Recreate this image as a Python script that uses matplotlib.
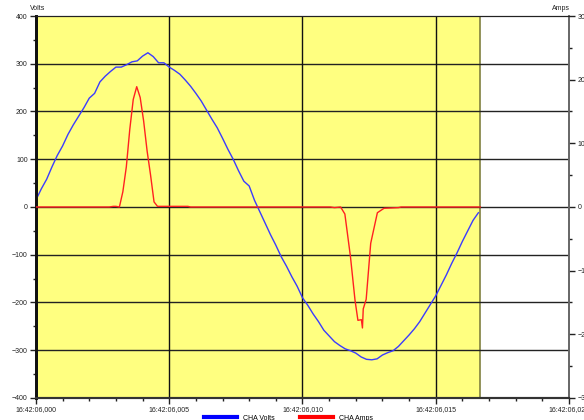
import numpy as np
import matplotlib
matplotlib.use("Agg")
import matplotlib.pyplot as plt
from matplotlib.ticker import MultipleLocator, FixedLocator

plt.rcParams['font.family'] = ['Liberation Sans', 'DejaVu Sans']

# time axis in ms, one 60 Hz cycle captured
t_volts = np.arange(84) * 0.2
volts = [15, 38, 58, 84, 108, 128, 152, 172, 190, 208,
         228, 238, 262, 274, 284, 293, 293, 298, 304, 306,
         316, 323, 315, 302, 302, 293, 286, 278, 266, 253,
         238, 222, 203, 184, 166, 144, 121, 100, 76, 54,
         44, 14, -10, -34, -58, -80, -104, -124, -146, -166,
         -190, -206, -224, -240, -258, -270, -282, -290, -297, -301,
         -306, -314, -319, -320, -318, -310, -305, -301, -292, -280,
         -268, -255, -240, -222, -204, -186, -164, -142, -118, -96,
         -72, -50, -28, -12]

t_amps = [0.0, 2.75, 2.90, 3.00, 3.13, 3.26, 3.39, 3.52, 3.65, 3.78,
          3.91, 4.04, 4.17, 4.30, 4.43, 4.56, 4.70, 5.70, 5.80,
          11.05, 11.20, 11.43, 11.59, 11.80, 11.97, 12.08, 12.21, 12.25,
          12.28, 12.39, 12.56, 12.81, 13.06, 13.60, 13.70, 16.67]
amps = [0.0, 0.0, 0.1, 0.1, 0.0, 2.4, 6.3, 12.2, 16.9, 18.9,
        17.2, 13.5, 8.8, 5.0, 0.8, 0.1, 0.1, 0.1, 0.0,
        0.0, -0.1, 0.0, -1.1, -7.8, -14.6, -17.8, -17.7, -19.0,
        -16.0, -14.5, -5.7, -0.9, -0.2, -0.1, 0.0, 0.0]

xtick_labels = ['16:42:06,000', '16:42:06,005', '16:42:06,010',
                '16:42:06,015', '16:42:06,020']
cycle_end = 16.667

fig = plt.figure(figsize=(5.84, 4.2), dpi=100)
ax = fig.add_axes([0.0616, 0.0524, 0.9127, 0.9095])
ax2 = ax.twinx()

ax.set_xlim(0, 20)
ax.set_ylim(-400, 400)
ax2.set_ylim(-30, 30)

# yellow band covers the captured cycle
ax.axvspan(0, cycle_end, color='#ffff80', zorder=0, lw=0)
ax.axvline(cycle_end, color='#808040', lw=1.2, zorder=1)

for v in range(-300, 400, 100):
    ax.axhline(v, color='#222222', lw=1, zorder=1)
for x in [5, 10, 15]:
    ax.axvline(x, color='#111111', lw=1, zorder=1)

ax.plot(t_volts, volts, color='#3b3bff', lw=1.0, zorder=3)
ax2.plot(t_amps, amps, color='#ff2020', lw=1.0, zorder=3)

ax.xaxis.set_major_locator(FixedLocator([0, 5, 10, 15, 20]))
ax.set_xticklabels(xtick_labels)
ax.xaxis.set_minor_locator(MultipleLocator(1))
ax.yaxis.set_major_locator(MultipleLocator(100))
ax.yaxis.set_minor_locator(MultipleLocator(50))
ax2.yaxis.set_major_locator(MultipleLocator(10))
ax2.yaxis.set_minor_locator(MultipleLocator(5))

for a in (ax, ax2):
    a.tick_params(which='major', direction='out', length=4, width=1,
                  labelsize=5, colors='#222222', pad=2)
    a.tick_params(which='minor', direction='out', length=2, width=1,
                  colors='#222222')

for a in (ax, ax2):
    a.spines['left'].set_linewidth(2)
    a.spines['left'].set_color('#111111')
    a.spines['bottom'].set_linewidth(1.5)
    a.spines['bottom'].set_color('#333333')
    a.spines['top'].set_color('#222222')
    a.spines['right'].set_color('#666666')
    a.spines['right'].set_linewidth(1.2)

fig.text(0.065, 0.972, 'Volts', fontsize=5, ha='center', va='bottom', color='#222222')
fig.text(0.96, 0.972, 'Amps', fontsize=5, ha='center', va='bottom', color='#222222')

h1, = ax.plot([], [], color='#0000ff', lw=3)
h2, = ax.plot([], [], color='#ff0000', lw=3)
fig.legend([h1, h2], ['CHA Volts', 'CHA Amps'], loc='center',
           bbox_to_anchor=(0.494, 0.004), ncol=2, frameon=False, fontsize=5,
           handlelength=4.8, handletextpad=0.9, columnspacing=3.6)

fig.savefig('out.png', dpi=100)
